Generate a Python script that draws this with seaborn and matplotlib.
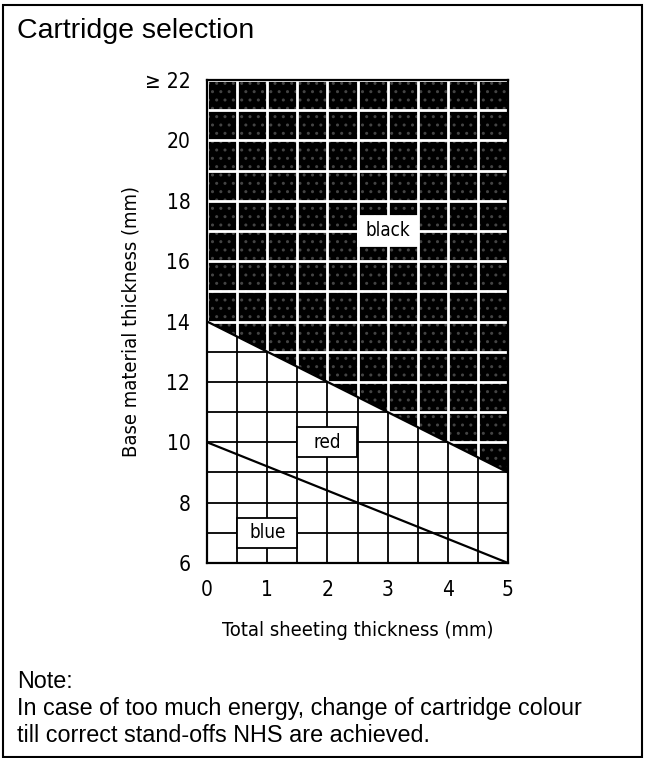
import numpy as np
import matplotlib
matplotlib.use("Agg")
import matplotlib.pyplot as plt
from matplotlib.patches import Polygon, Rectangle
from matplotlib import font_manager
import seaborn as sns
import pandas as pd

# ---- data ----
sheeting = [0, 5]                 # total sheeting thickness (mm)
black_lower = [14, 9]             # lower boundary of "black" cartridge zone
red_lower = [10, 6]               # lower boundary of "red" cartridge zone
y_min, y_max = 6, 22
x_min, x_max = 0, 5
x_ticks = [0, 1, 2, 3, 4, 5]
y_ticks = [6, 8, 10, 12, 14, 16, 18, 20, 22]
y_tick_labels = ["6", "8", "10", "12", "14", "16", "18", "20", "\u2265 22"]
zone_names = ["black", "red", "blue"]
zone_x = [3.0, 2.0, 1.0]
zone_y = [17.0, 10.0, 7.0]
zone_border = [False, True, True]

title = "Cartridge selection"
xlabel = "Total sheeting thickness (mm)"
ylabel = "Base material thickness (mm)"
note_lines = ["Note:",
              "In case of too much energy, change of cartridge colour",
              "till correct stand-offs NHS are achieved."]

sns.set_theme(style="white")
plt.rcParams["font.family"] = ["Liberation Sans", "DejaVu Sans"]
plt.rcParams["text.color"] = "black"
plt.rcParams["xtick.color"] = "black"
plt.rcParams["ytick.color"] = "black"
plt.rcParams["axes.labelcolor"] = "black"

names = {f.name for f in font_manager.fontManager.ttflist}
if "DejaVu Sans Condensed" in names:
    tech = dict(fontfamily=["DejaVu Sans Condensed", "DejaVu Sans"])
else:
    tech = dict(fontfamily=["DejaVu Sans"], fontstretch="condensed")

W, H = 652, 758
fig = plt.figure(figsize=(W / 100, H / 100), dpi=100)
ax = fig.add_axes([207 / W, 1 - 563 / H, (508 - 207) / W, (563 - 80) / H])
ax.set_xlim(x_min, x_max)
ax.set_ylim(y_min, y_max)

# grid (black, under everything)
ax.set_xticks(x_ticks)
ax.set_xticks(np.arange(x_min, x_max + 0.01, 0.5), minor=True)
ax.set_yticks(y_ticks)
ax.set_yticks(np.arange(y_min, y_max + 0.01, 1), minor=True)
ax.set_axisbelow(True)
ax.grid(which="both", color="black", linewidth=1.3)
ax.tick_params(which="both", length=0)
ax.set_xticklabels([str(v) for v in x_ticks], fontsize=15, **tech)
ax.set_yticklabels(y_tick_labels, fontsize=15, **tech)
ax.tick_params(axis="x", pad=12)
ax.tick_params(axis="y", pad=12)

# black zone
verts = [(sheeting[0], black_lower[0]), (sheeting[1], black_lower[1]),
         (sheeting[1], y_max), (sheeting[0], y_max)]
poly = Polygon(verts, closed=True, facecolor="black", edgecolor="#444444",
               linewidth=0, hatch="..", zorder=2)
ax.add_patch(poly)
vl = ax.vlines(np.arange(x_min, x_max + 0.01, 0.5), y_min, y_max,
               colors="white", linewidth=2.0, zorder=3)
hl = ax.hlines(np.arange(y_min, y_max + 0.01, 1), x_min, x_max,
               colors="white", linewidth=2.0, zorder=3)
vl.set_clip_path(poly)
hl.set_clip_path(poly)

# boundary lines
df = pd.DataFrame({"x": sheeting * 2,
                   "y": black_lower + red_lower,
                   "zone": ["black"] * 2 + ["red"] * 2})
sns.lineplot(data=df, x="x", y="y", units="zone", estimator=None,
             color="black", linewidth=1.6, ax=ax, zorder=4, legend=False)

# zone labels
for name, zx, zy, bord in zip(zone_names, zone_x, zone_y, zone_border):
    ax.add_patch(Rectangle((zx - 0.5, zy - 0.5), 1.0, 1.0, facecolor="white",
                           edgecolor="black" if bord else "white",
                           linewidth=1.3, zorder=5))
    ax.text(zx, zy, name, ha="center", va="center", fontsize=13.5,
            zorder=6, **tech)

for s in ax.spines.values():
    s.set_color("black")
    s.set_linewidth(1.6)
    s.set_zorder(7)

ax.set_xlabel(xlabel, fontsize=14.5, labelpad=15, **tech)
ax.set_ylabel(ylabel, fontsize=14.5, labelpad=3, **tech)

# titles / notes
fig.text(17 / W, 1 - 38 / H, title, fontsize=20.5, va="baseline", ha="left")
for txt, base in zip(note_lines, [688, 715, 742]):
    fig.text(17 / W, 1 - base / H, txt, fontsize=16.8, va="baseline", ha="left")

# outer frame
fig.add_artist(Rectangle((3 / W, 1 - 757 / H), (642 - 3) / W, (757 - 5) / H,
                         transform=fig.transFigure, fill=False,
                         edgecolor="black", linewidth=1.5))

fig.savefig("out.png", dpi=100)
